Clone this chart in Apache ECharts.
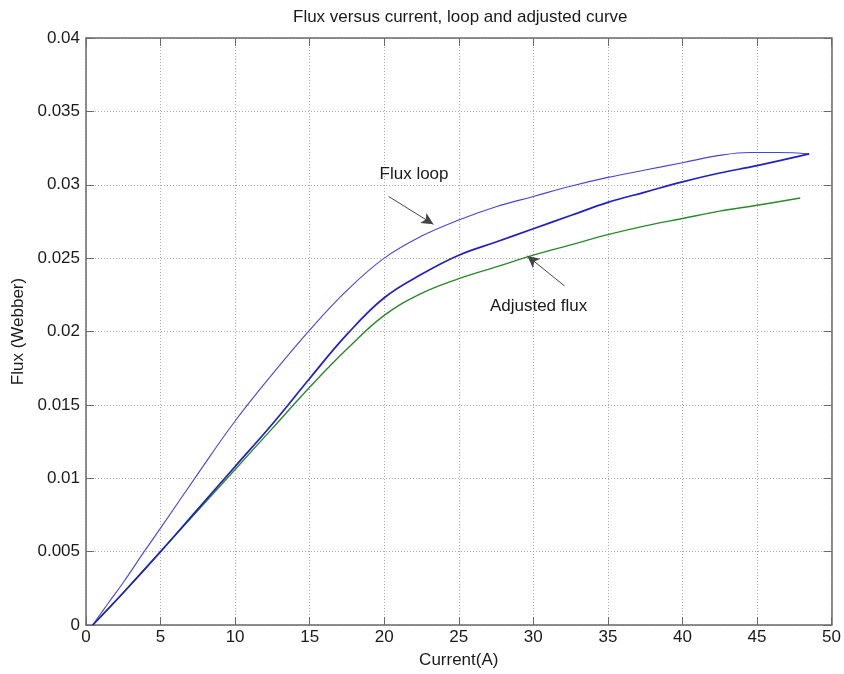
<!DOCTYPE html>
<html>
<head>
<meta charset="utf-8">
<title>Flux versus current</title>
<script src="https://cdn.jsdelivr.net/npm/echarts@6/dist/echarts.min.js"></script>
<style>
  html, body { margin: 0; padding: 0; background: #fff; }
  #chart { width: 844px; height: 674px; }
</style>
</head>
<body>
<div id="chart"></div>
<script>
// Flux loop, decreasing-current branch (upper curve), current in A
var loopUpperCurrent = [0.45, 1.5, 2.5, 3.9, 5, 7.5, 10, 12.5, 15, 17.5, 20, 22.5, 25, 27.5, 30, 32.5, 35, 37.5, 40, 42.5, 44.5, 46.5, 48.5];
var loopUpperFlux    = [0, 0.0015, 0.0029, 0.005, 0.0066, 0.0103, 0.0139, 0.0171, 0.0201, 0.0228, 0.0250, 0.0265, 0.0276, 0.0285, 0.0292, 0.0299, 0.0305, 0.0310, 0.0315, 0.0320, 0.0322, 0.0322, 0.0321];

// Flux loop, increasing-current branch (lower curve)
var loopLowerCurrent = [0.45, 2.5, 5, 7.5, 10, 12.5, 15, 17.5, 20, 22.5, 25, 27.5, 30, 32.5, 35, 37.5, 40, 42.5, 45, 48.5];
var loopLowerFlux    = [0, 0.0022, 0.0050, 0.0079, 0.0108, 0.0137, 0.0168, 0.0198, 0.0223, 0.0239, 0.0252, 0.0261, 0.0270, 0.0279, 0.0288, 0.0295, 0.0302, 0.0308, 0.0313, 0.0321];

// Adjusted flux curve
var adjustedCurrent = [0.45, 2.5, 5, 7.5, 10, 12.5, 15, 17.5, 20, 22.5, 25, 27.5, 30, 32.5, 35, 37.5, 40, 42.5, 45, 47.9];
var adjustedFlux    = [0, 0.0022, 0.0050, 0.0078, 0.0106, 0.0134, 0.0162, 0.0188, 0.0211, 0.0226, 0.0236, 0.0244, 0.0252, 0.0259, 0.0266, 0.0272, 0.0277, 0.0282, 0.0286, 0.0291];

// Axis ticks
var currentTicks = [0, 5, 10, 15, 20, 25, 30, 35, 40, 45, 50];
var fluxTicks = [0, 0.005, 0.01, 0.015, 0.02, 0.025, 0.03, 0.035, 0.04];

// Callout labels: text anchor, arrow tail and arrow head in (current, flux)
var loopNote = { text: 'Flux loop', at: [22.0, 0.0307], from: [20.3, 0.0292], to: [23.3, 0.0273] };
var adjustedNote = { text: 'Adjusted flux', at: [30.35, 0.0217], from: [32.1, 0.0231], to: [29.6, 0.02515] };

function pairs(xs, ys) {
  return xs.map(function (x, i) { return [x, ys[i]]; });
}

var FONT = "'Liberation Sans', Arial, sans-serif";
var AXIS_COLOR = '#6a6a6a';
var TEXT_COLOR = '#1a1a1a';
var GRID_LINE = { show: true, lineStyle: { color: '#a8a8a8', type: [1, 2], width: 1 } };

function baseAxis(extra) {
  var a = {
    type: 'value',
    axisLine: { show: true, onZero: false, lineStyle: { color: AXIS_COLOR, width: 1.5 } },
    axisTick: { show: true, inside: true, length: 8, lineStyle: { color: AXIS_COLOR, width: 1 } },
    axisLabel: { show: false },
    splitLine: { show: false }
  };
  for (var k in extra) a[k] = extra[k];
  return a;
}

var cMin = currentTicks[0], cMax = currentTicks[currentTicks.length - 1];
var cStep = currentTicks[1] - currentTicks[0];
var fMin = fluxTicks[0], fMax = fluxTicks[fluxTicks.length - 1];
var fStep = fluxTicks[1] - fluxTicks[0];

function noteArrow(note) {
  return {
    silent: true,
    symbol: ['none', 'arrow'],
    symbolSize: [9, 12],
    label: { show: false },
    lineStyle: { color: '#454545', width: 1, type: 'solid', opacity: 1 },
    itemStyle: { color: '#000', opacity: 1 },
    emphasis: { disabled: true },
    data: [[{ coord: note.from }, { coord: note.to }]]
  };
}

var chart = echarts.init(document.getElementById('chart'), null, { renderer: 'canvas' });

chart.setOption({
  animation: false,
  backgroundColor: '#ffffff',
  textStyle: { fontFamily: FONT },
  graphic: [{
    type: 'text',
    left: 293,
    top: 9,
    style: {
      text: 'Flux versus current, loop and adjusted curve',
      font: '17px ' + FONT,
      fill: TEXT_COLOR
    }
  }],
  grid: { left: 86, right: 9, top: 38, bottom: 47, containLabel: false },
  xAxis: [
    baseAxis({
      min: cMin, max: cMax, interval: cStep,
      position: 'bottom',
      name: 'Current(A)',
      nameLocation: 'middle',
      nameGap: 27,
      nameTextStyle: { fontSize: 17, color: TEXT_COLOR, fontFamily: FONT },
      axisLabel: { show: true, fontSize: 17, color: TEXT_COLOR, margin: 4, fontFamily: FONT },
      splitLine: GRID_LINE
    }),
    baseAxis({ min: cMin, max: cMax, interval: cStep, position: 'top' })
  ],
  yAxis: [
    baseAxis({
      min: fMin, max: fMax, interval: fStep,
      position: 'left',
      name: 'Flux (Webber)',
      nameLocation: 'middle',
      nameGap: 54,
      nameTextStyle: { fontSize: 17, color: TEXT_COLOR, fontFamily: FONT },
      axisLabel: {
        show: true, fontSize: 17, color: TEXT_COLOR, margin: 6, fontFamily: FONT,
        formatter: function (v) { return String(+v.toFixed(3)); }
      },
      splitLine: GRID_LINE
    }),
    baseAxis({ min: fMin, max: fMax, interval: fStep, position: 'right' })
  ],
  series: [
    {
      name: 'Flux loop (decreasing current)',
      type: 'line',
      xAxisIndex: 0, yAxisIndex: 0,
      data: pairs(loopUpperCurrent, loopUpperFlux),
      showSymbol: false,
      smooth: 0.4,
      lineStyle: { color: '#4646d6', width: 1.1 },
      z: 3,
      markLine: noteArrow(loopNote)
    },
    {
      name: 'Flux loop (increasing current)',
      type: 'line',
      xAxisIndex: 0, yAxisIndex: 0,
      data: pairs(loopLowerCurrent, loopLowerFlux),
      showSymbol: false,
      smooth: 0.4,
      lineStyle: { color: '#2020c4', width: 1.7 },
      z: 4
    },
    {
      name: 'Adjusted flux',
      type: 'line',
      xAxisIndex: 0, yAxisIndex: 0,
      data: pairs(adjustedCurrent, adjustedFlux),
      showSymbol: false,
      smooth: 0.4,
      lineStyle: { color: '#2a8a2a', width: 1.4 },
      z: 3,
      markLine: noteArrow(adjustedNote)
    },
    {
      name: 'Callouts',
      type: 'scatter',
      xAxisIndex: 0, yAxisIndex: 0,
      silent: true,
      symbolSize: 0,
      itemStyle: { opacity: 1 },
      data: [
        { value: loopNote.at, name: loopNote.text },
        { value: adjustedNote.at, name: adjustedNote.text }
      ],
      label: {
        show: true,
        position: 'inside',
        formatter: '{b}',
        fontSize: 17,
        color: TEXT_COLOR,
        textBorderWidth: 0,
        opacity: 1,
        fontFamily: FONT
      },
      z: 5
    }
  ]
});
</script>
</body>
</html>
